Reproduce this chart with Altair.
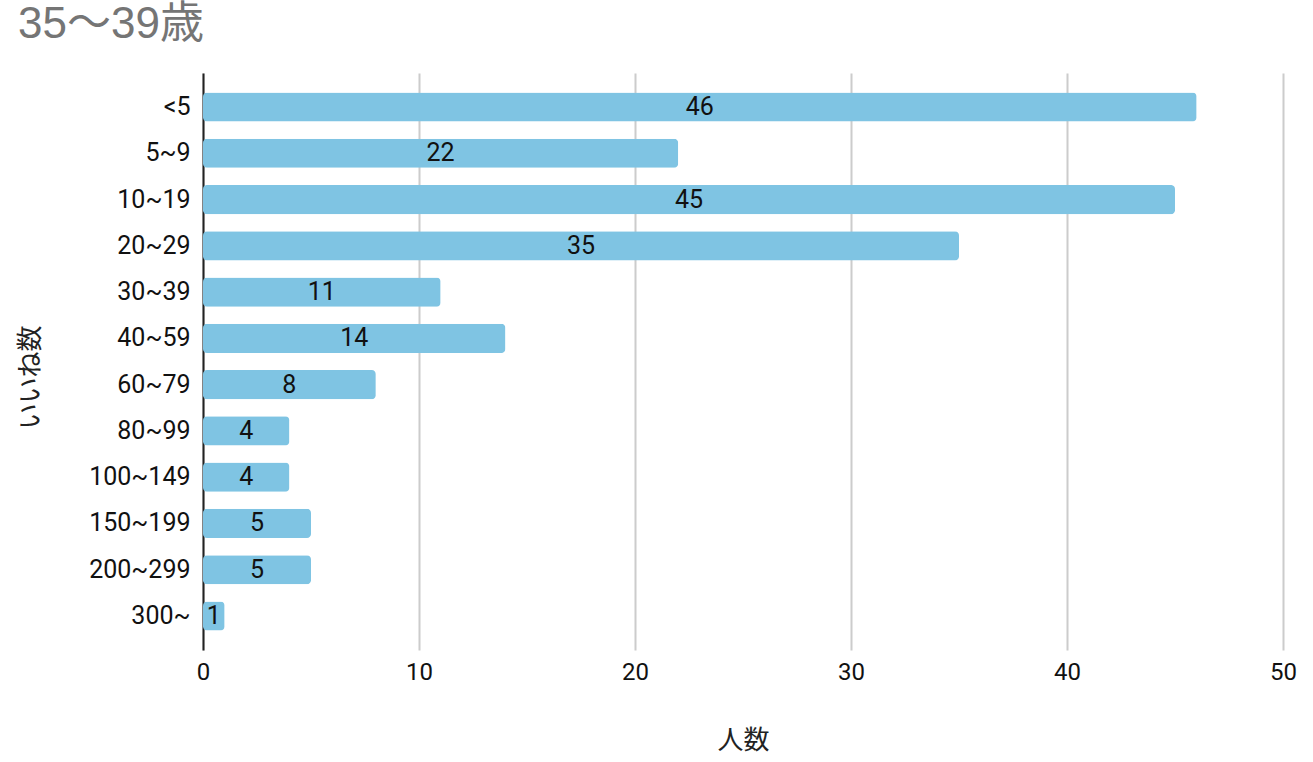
import altair as alt
import pandas as pd

categories = ["<5", "5~9", "10~19", "20~29", "30~39", "40~59", "60~79", "80~99", "100~149", "150~199", "200~299", "300~"]
counts = [46, 22, 45, 35, 11, 14, 8, 4, 4, 5, 5, 1]

df = pd.DataFrame({"cat": categories, "n": counts})

H = 577

base = alt.Chart(df).encode(
    y=alt.Y("cat:N", sort=categories, title="いいね数",
            scale=alt.Scale(paddingInner=0.37, paddingOuter=0.42),
            axis=alt.Axis(domain=True, domainColor="#222222", domainWidth=2, ticks=False,
                          labelPadding=13, labelFontSize=25, labelFont="Roboto", labelColor="#111111",
                          titleFont="Noto Sans CJK JP", titleFontSize=26, titleFontWeight="normal",
                          titleColor="#222222", titleAngle=-90, titleX=-173, titleY=304,
                          titleAlign="center", titleBaseline="middle", grid=False)),
)

bars = base.mark_bar(color="#7fc4e3", cornerRadius=4).encode(
    x=alt.X("n:Q", title="人数", scale=alt.Scale(domain=[0, 50], nice=False),
            axis=alt.Axis(values=[0, 10, 20, 30, 40, 50], domain=False, ticks=False, grid=True,
                          labelFlush=False,
                          gridColor="#cccccc", gridWidth=2, labelPadding=10, labelFontSize=24,
                          labelFont="Roboto", labelColor="#111111",
                          titleFont="Noto Sans CJK JP", titleFontSize=26, titleFontWeight="normal",
                          titleColor="#222222", titleX=540, titleY=90, titleAlign="center",
                          titleBaseline="middle")),
)

labels = base.transform_calculate(mid="datum.n / 2").mark_text(
    font="Roboto", fontSize=25, color="#111111", baseline="middle", align="center"
).encode(
    x=alt.X("mid:Q"),
    text=alt.Text("n:Q"),
)

chart = alt.layer(bars, labels).properties(
    width=1080, height=H,
    autosize=alt.AutoSizeParams(type="none"),
    padding={"left": 203, "top": 73, "right": 30, "bottom": 112},
    title=alt.TitleParams("35～39歳", anchor="start", frame="group", dx=-185, offset=30, dy=39,
                          baseline="alphabetic", font="Liberation Sans, Noto Sans CJK JP",
                          fontSize=44, fontWeight="normal", color="#757575"),
).configure_view(stroke=None)

chart.save("out.html", embed_options={"renderer": "svg", "actions": False})
